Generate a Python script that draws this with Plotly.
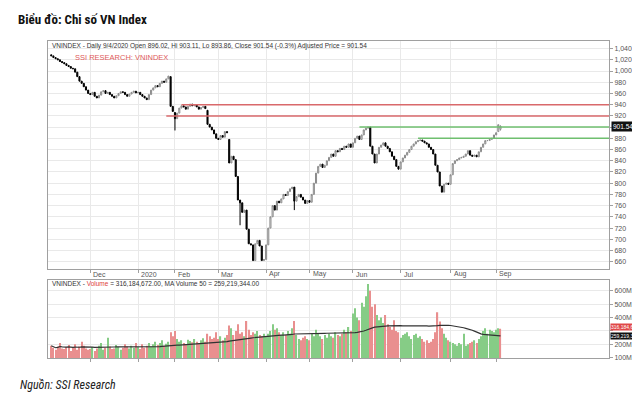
import pandas as pd
import plotly.graph_objects as go

# ---------------- data ----------------
first_day, last_day = "2019-11-06", "2020-09-04"
holidays = ["2020-01-01", "2020-01-23", "2020-01-24", "2020-01-27", "2020-01-28", "2020-01-29",
            "2020-04-02", "2020-04-30", "2020-05-01", "2020-09-02"]

open_nov = [1029, 1027, 1024, 1022, 1020, 1017, 1015, 1013, 1010, 1008, 1005, 1004, 998, 990, 982, 978, 972, 966]
close_nov = [1027, 1024, 1022, 1020, 1017, 1015, 1013, 1010, 1008, 1005, 1004, 998, 990, 982, 978, 972, 966, 960]
open_dec = [960, 958, 962, 955, 952, 957, 963, 965, 960, 962, 958, 955, 952, 956, 960, 963, 962, 958, 955, 959, 962, 964]
close_dec = [958, 962, 955, 952, 957, 963, 965, 960, 962, 958, 955, 952, 956, 960, 963, 962, 958, 955, 959, 962, 964, 961]
open_jan = [961, 962, 958, 955, 952, 949, 958, 966, 970, 974, 972, 978, 982, 980, 986, 990, 937]
close_jan = [962, 958, 955, 952, 949, 958, 966, 970, 974, 972, 978, 982, 980, 986, 991, 937, 928]
open_feb = [926, 915, 925, 934, 938, 936, 932, 937, 941, 938, 940, 936, 932, 935, 937, 930, 905, 900, 895, 888]
close_feb = [915, 925, 934, 938, 936, 932, 937, 941, 938, 940, 936, 932, 935, 937, 933, 905, 900, 895, 888, 880]
open_mar = [880, 878, 885, 882, 892, 878, 836, 848, 842, 812, 770, 765, 748, 752, 718, 692, 690, 662, 692, 698, 688, 662]
close_mar = [878, 885, 882, 892, 890, 836, 848, 842, 812, 770, 765, 748, 752, 718, 692, 690, 662, 692, 698, 688, 662, 664]
open_apr = [664, 690, 720, 740, 760, 752, 768, 765, 772, 780, 778, 785, 790, 793, 768, 776, 780, 775, 770, 764]
close_apr = [690, 720, 740, 760, 752, 768, 765, 772, 780, 778, 785, 790, 793, 768, 776, 780, 775, 770, 764, 769]
open_may = [769, 766, 780, 800, 818, 830, 834, 828, 832, 840, 846, 852, 848, 858, 856, 862, 860, 866, 864, 870]
close_may = [766, 780, 800, 818, 830, 834, 828, 832, 840, 846, 852, 848, 858, 856, 862, 860, 866, 864, 870, 864]
open_jun = [864, 872, 880, 884, 878, 886, 895, 898, 900, 866, 852, 836, 852, 864, 868, 872, 866, 862, 856, 848, 842, 830]
close_jun = [872, 880, 884, 878, 886, 895, 898, 900, 866, 852, 836, 852, 864, 868, 872, 866, 862, 856, 848, 842, 830, 825]
open_jul = [825, 838, 845, 850, 855, 860, 866, 870, 874, 876, 877, 875, 872, 870, 864, 860, 852, 832, 820, 795, 784, 798, 800]
close_jul = [838, 845, 850, 855, 860, 866, 870, 874, 876, 877, 875, 872, 870, 864, 860, 852, 832, 820, 795, 784, 798, 800, 798]
open_aug = [798, 815, 835, 840, 842, 845, 846, 848, 852, 858, 850, 848, 850, 847, 856, 864, 870, 876, 876, 878, 880]
close_aug = [815, 835, 840, 842, 845, 846, 848, 852, 858, 850, 848, 850, 847, 856, 864, 870, 876, 876, 878, 880, 886]
open_sep = [886, 892, 896.02]
close_sep = [890, 904.3, 901.54]

wick_dates = ["2020-02-03", "2020-03-16", "2020-04-21", "2020-09-04"]
wick_highs = [926, 770, 793, 903.11]
wick_lows = [894, 725, 752, 893.86]

# volume, millions of shares
vol_nov = [190, 175, 160, 185, 210, 170, 165, 180, 195, 150, 175, 200, 160, 185, 220, 190, 170, 160]
vol_dec = [165, 180, 150, 170, 190, 210, 160, 175, 250, 185, 165, 170, 195, 180, 160, 175, 200, 185, 170, 190, 175, 210]
vol_jan = [180, 165, 200, 175, 190, 210, 185, 200, 220, 195, 210, 230, 190, 205, 220, 290, 260]
vol_feb = [300, 240, 220, 230, 210, 200, 235, 225, 215, 240, 220, 210, 230, 245, 220, 280, 260, 240, 250, 290]
vol_mar = [240, 260, 230, 250, 270, 340, 320, 270, 300, 350, 280, 290, 260, 375, 310, 270, 290, 280, 300, 270, 260, 280]
vol_apr = [260, 280, 300, 350, 310, 320, 290, 270, 290, 270, 300, 280, 320, 375, 270, 240, 230, 250, 260, 240]
vol_may = [230, 280, 260, 310, 280, 260, 240, 270, 250, 280, 260, 250, 290, 270, 260, 280, 310, 290, 330, 300]
vol_jun = [430, 470, 400, 380, 510, 480, 560, 650, 600, 480, 500, 420, 380, 400, 360, 420, 350, 330, 310, 380, 300, 290]
vol_jul = [250, 270, 280, 290, 260, 240, 270, 280, 250, 260, 240, 220, 230, 210, 220, 240, 290, 440, 370, 320, 280, 250, 230]
vol_aug = [220, 210, 200, 190, 210, 200, 280, 190, 200, 210, 220, 230, 210, 240, 260, 300, 320, 280, 310, 300, 290]
vol_sep = [310, 320, 316.184672]
ma_last = 259.219344

month_keys = ["2019-12", "2020-01", "2020-02", "2020-03", "2020-04", "2020-05", "2020-06", "2020-07", "2020-08", "2020-09"]
month_labels = ["Dec", "2020", "Feb", "Mar", "Apr", "May", "Jun", "Jul", "Aug", "Sep"]

price_ticks = list(range(660, 1041, 20))
price_hidden = [900]          # covered by the last-price tag
vol_ticks = [100, 200, 300, 400, 500, 600]
vol_hidden = [300]            # covered by the last-volume tags

level_values = [940, 920, 900, 880]
level_starts = ["2020-02-06", "2020-01-21", "2020-06-04", "2020-07-13"]
level_colors = ["#d9696b", "#d9696b", "#6fbf6f", "#6fbf6f"]

# ---------------- assemble ----------------
dates = [d.strftime("%Y-%m-%d") for d in pd.bdate_range(first_day, last_day)
         if d.strftime("%Y-%m-%d") not in holidays]
opens = open_nov + open_dec + open_jan + open_feb + open_mar + open_apr + open_may + open_jun + open_jul + open_aug + open_sep
closes = close_nov + close_dec + close_jan + close_feb + close_mar + close_apr + close_may + close_jun + close_jul + close_aug + close_sep
volume = vol_nov + vol_dec + vol_jan + vol_feb + vol_mar + vol_apr + vol_may + vol_jun + vol_jul + vol_aug + vol_sep
assert len(dates) == len(opens) == len(closes) == len(volume), (len(dates), len(opens), len(closes), len(volume))

highs = [max(o, c) for o, c in zip(opens, closes)]
lows = [min(o, c) for o, c in zip(opens, closes)]
for d, h, l in zip(wick_dates, wick_highs, wick_lows):
    k = dates.index(d)
    highs[k] = max(highs[k], h)
    lows[k] = min(lows[k], l)

vol_colors = []
for k in range(len(closes)):
    prev = closes[k - 1] if k > 0 else opens[0]
    vol_colors.append("#86cc86" if closes[k] >= prev else "#e98f8f")
ma50 = pd.Series(volume).rolling(50, min_periods=1).mean().tolist()

month_ticks = [next(d for d in dates if d.startswith(m)) for m in month_keys]

# ---------------- geometry (pixels of a 640x393 canvas) ----------------
W, H = 640, 393
def px(x):
    return x / W
def py(y):
    return 1 - y / H

x_range = [-1.5, 257]
FONT = "Liberation Sans, Arial, sans-serif"
NARROW = "Liberation Sans Narrow, Roboto Condensed, Arial Narrow, Liberation Sans, sans-serif"
GRID = "#e9e9e9"
FRAME = "#a0a0a0"
TICKF = dict(family=FONT, size=7, color="#555555")

fig = go.Figure()
fig.add_trace(go.Candlestick(
    x=dates, open=opens, high=highs, low=lows, close=closes,
    increasing=dict(line=dict(color="#8a8a8a", width=1), fillcolor="#ffffff"),
    decreasing=dict(line=dict(color="#000000", width=1), fillcolor="#000000"),
    whiskerwidth=0, xaxis="x", yaxis="y", showlegend=False, hoverinfo="skip"))
fig.add_trace(go.Bar(
    x=dates, y=volume, marker=dict(color=vol_colors, line=dict(width=0)),
    width=0.55, xaxis="x2", yaxis="y2", showlegend=False, hoverinfo="skip"))
fig.add_trace(go.Scatter(
    x=dates, y=ma50, mode="lines", line=dict(color="#333333", width=1.2),
    xaxis="x2", yaxis="y2", showlegend=False, hoverinfo="skip"))

common_x = dict(type="category", range=x_range, tickvals=month_ticks, showticklabels=False,
                showgrid=True, gridcolor=GRID, gridwidth=1, showline=True, mirror=True,
                linecolor=FRAME, linewidth=1, ticks="outside", ticklen=3, tickcolor=FRAME,
                domain=[px(40), px(601)], fixedrange=True)
fig.update_layout(
    width=W, height=H, margin=dict(l=0, r=0, t=0, b=0),
    paper_bgcolor="white", plot_bgcolor="white", showlegend=False,
    xaxis=dict(**common_x, anchor="y", rangeslider=dict(visible=False)),
    xaxis2=dict(**common_x, anchor="y2", matches="x"),
    yaxis=dict(domain=[py(263), py(33)], range=[647, 1054], side="right", anchor="x",
               tickvals=price_ticks,
               ticktext=["" if v in price_hidden else f"{v:,}" for v in price_ticks],
               tickfont=TICKF, showgrid=True,
               gridcolor=GRID, showline=True, mirror=True, linecolor=FRAME, linewidth=1,
               ticks="outside", ticklen=3, tickcolor=FRAME, zeroline=False),
    yaxis2=dict(domain=[py(353), py(274)], range=[96, 681], side="right", anchor="x2",
                tickvals=vol_ticks,
                ticktext=["" if v in vol_hidden else f"{v}M" for v in vol_ticks], tickfont=TICKF,
                showgrid=True, gridcolor=GRID, showline=True, mirror=True, linecolor=FRAME,
                linewidth=1, ticks="outside", ticklen=3, tickcolor=FRAME, zeroline=False),
)

# level lines
for v, s, c in zip(level_values, level_starts, level_colors):
    fig.add_shape(type="line", xref="x", yref="y", x0=s, x1=x_range[1], y0=v, y1=v,
                  line=dict(color=c, width=1.5))

# month labels (left aligned after the tick)
for d, lab in zip(month_ticks, month_labels):
    fig.add_annotation(x=d, xref="x", y=py(268.5), yref="paper", text=lab, showarrow=False,
                       xanchor="left", yanchor="middle", xshift=1, font=TICKF)

def ann(**kw):
    fig.add_annotation(showarrow=False, xref="paper", yref="paper", **kw)

ann(x=px(8), y=py(12), text="<b>Biểu đồ: Chi số VN Index</b>", xanchor="left", yanchor="middle",
    font=dict(family=NARROW, size=13, color="#111111"))
ann(x=px(10), y=py(380), text="<i>Nguồn: SSI Research</i>", xanchor="left", yanchor="middle",
    font=dict(family=NARROW, size=12, color="#222222"))
ann(x=px(42), y=py(38.5),
    text="VNINDEX - Daily 9/4/2020 Open 896.02, Hi 903.11, Lo 893.86, Close 901.54 (-0.3%) Adjusted Price = 901.54",
    xanchor="left", yanchor="middle", font=dict(family=FONT, size=6.5, color="#333333"))
ann(x=px(65), y=py(50), text="SSI RESEARCH: VNINDEX", xanchor="left", yanchor="middle",
    font=dict(family=FONT, size=7.5, color="#e05a5a"))
ann(x=px(42), y=py(278),
    text="VNINDEX - <span style='color:#e04040'>Volume</span> = 316,184,672.00, MA Volume 50 = 259,219,344.00",
    xanchor="left", yanchor="middle", font=dict(family=FONT, size=6.5, color="#333333"))
ann(x=px(603), y=py(119.5), text=f"{closes[-1]:.2f}", xanchor="left", yanchor="middle",
    bgcolor="#111111", borderpad=1, font=dict(family=FONT, size=6.5, color="#ffffff"))
ann(x=px(602), y=py(321.5), text=f"{volume[-1] * 1e6:,.0f}", xanchor="left", yanchor="middle",
    bgcolor="#e04848", borderpad=0, font=dict(family=FONT, size=5, color="#ffffff"))
ann(x=px(602), y=py(330.5), text=f"{ma_last * 1e6:,.0f}", xanchor="left", yanchor="middle",
    bgcolor="#111111", borderpad=0, font=dict(family=FONT, size=5, color="#ffffff"))

fig.write_html("out.html")
